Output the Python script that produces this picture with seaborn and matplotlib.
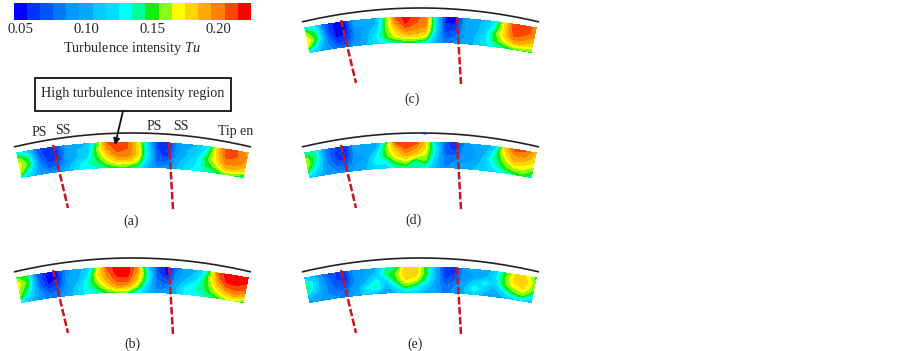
import numpy as np
import matplotlib
matplotlib.use('Agg')
import matplotlib.pyplot as plt
import seaborn as sns
from matplotlib.colors import ListedColormap

sns.set_style('white')
plt.rcParams['font.family'] = ['Liberation Serif', 'DejaVu Serif']
plt.rcParams['mathtext.fontset'] = 'custom'
plt.rcParams['mathtext.it'] = 'Liberation Serif:italic'

# ---------------------- Data ----------------------
cbar_colors = ['#0000ff', '#0033ff', '#0055ff', '#0077ff', '#0099ff', '#00aaff',
               '#00ccff', '#00ddff', '#00ffff', '#00ff99', '#11ee11', '#88ff11',
               '#ffff00', '#ffd500', '#ffaa00', '#ff8000', '#ff4400', '#ff0000']
tu_levels = np.arange(0.045, 0.2251, 0.01)
tick_values = [0.05, 0.10, 0.15, 0.20]
tick_labels = ['0.05', '0.10', '0.15', '0.20']

# Tu on the passage, rows run from casing side to hub side
tu_a = [[.13, .115, .07, .055, .07, .095, .105, .105, .15, .205, .215, .205, .175, .115, .06, .055, .09, .105, .105, .125, .18, .215, .205, .19],
        [.16, .14, .075, .055, .06, .095, .105, .11, .16, .195, .21, .205, .18, .12, .065, .055, .09, .105, .11, .135, .18, .21, .205, .195],
        [.17, .15, .085, .06, .065, .095, .105, .12, .155, .18, .20, .20, .18, .125, .07, .06, .095, .105, .12, .15, .175, .20, .20, .19],
        [.165, .13, .09, .07, .075, .10, .12, .135, .145, .165, .18, .18, .165, .115, .075, .075, .10, .115, .125, .145, .16, .185, .185, .175],
        [.13, .11, .095, .085, .09, .105, .125, .135, .135, .145, .15, .15, .135, .105, .085, .09, .105, .12, .13, .135, .14, .155, .155, .135]]
tu_b = [[.155, .145, .075, .05, .055, .09, .10, .11, .16, .21, .22, .22, .195, .115, .065, .05, .08, .105, .105, .135, .205, .22, .22, .22],
        [.17, .15, .075, .05, .055, .095, .10, .12, .175, .20, .22, .22, .19, .135, .07, .05, .09, .10, .115, .15, .195, .22, .22, .215],
        [.165, .14, .08, .055, .06, .095, .105, .135, .165, .19, .21, .21, .18, .13, .075, .065, .095, .11, .13, .15, .18, .205, .21, .205],
        [.155, .12, .09, .07, .075, .095, .115, .135, .15, .175, .195, .19, .16, .115, .08, .08, .105, .13, .135, .145, .165, .185, .195, .185],
        [.125, .105, .09, .08, .085, .10, .115, .13, .135, .15, .155, .155, .13, .105, .09, .095, .105, .13, .135, .135, .145, .16, .165, .145]]
tu_c = [[.135, .12, .07, .05, .055, .10, .105, .10, .15, .205, .22, .21, .20, .12, .055, .05, .095, .105, .105, .125, .18, .215, .215, .20],
        [.16, .14, .07, .05, .055, .095, .095, .105, .155, .195, .215, .205, .20, .125, .055, .055, .095, .10, .11, .135, .18, .215, .21, .20],
        [.175, .145, .08, .05, .055, .09, .10, .115, .155, .18, .20, .195, .19, .125, .06, .065, .095, .10, .115, .15, .18, .205, .20, .19],
        [.165, .125, .085, .06, .065, .09, .10, .125, .15, .17, .18, .18, .17, .11, .07, .075, .095, .105, .12, .145, .165, .185, .185, .175],
        [.125, .105, .09, .075, .08, .095, .105, .12, .13, .14, .145, .145, .135, .10, .08, .085, .10, .105, .12, .13, .14, .15, .155, .15]]
tu_d = [[.135, .135, .085, .065, .06, .095, .10, .095, .14, .205, .215, .21, .18, .115, .07, .055, .09, .10, .095, .115, .185, .21, .205, .185],
        [.16, .14, .085, .06, .055, .095, .10, .105, .155, .185, .205, .195, .175, .125, .07, .06, .095, .095, .10, .135, .175, .195, .195, .18],
        [.165, .13, .085, .065, .06, .095, .095, .125, .15, .175, .19, .18, .165, .12, .075, .075, .095, .09, .11, .14, .16, .185, .18, .17],
        [.145, .115, .09, .075, .075, .095, .10, .13, .13, .155, .165, .14, .155, .11, .08, .085, .095, .10, .11, .13, .15, .165, .165, .155],
        [.12, .105, .09, .085, .09, .10, .105, .115, .115, .135, .14, .14, .13, .105, .085, .095, .10, .105, .11, .12, .13, .14, .15, .135]]
tu_e = [[.11, .10, .075, .065, .065, .095, .095, .10, .135, .14, .18, .18, .15, .10, .06, .06, .095, .10, .095, .115, .15, .175, .175, .15],
        [.14, .115, .08, .065, .06, .09, .095, .11, .14, .155, .185, .18, .15, .10, .06, .065, .095, .095, .10, .12, .155, .18, .18, .16],
        [.145, .11, .085, .07, .065, .09, .105, .13, .115, .15, .175, .17, .14, .10, .065, .075, .095, .11, .13, .11, .15, .17, .175, .155],
        [.11, .10, .085, .075, .08, .095, .125, .14, .10, .125, .155, .14, .115, .095, .075, .085, .105, .135, .11, .10, .125, .15, .16, .13],
        [.095, .095, .09, .085, .085, .10, .11, .105, .095, .105, .115, .115, .10, .095, .08, .09, .105, .115, .10, .095, .10, .115, .12, .105]]

panel_names = ['(a)', '(b)', '(c)', '(d)', '(e)']
annot_labels = ['PS', 'SS', 'PS', 'SS', 'Tip en']

# ---------------------- Plotting ---------------------------------------
fig = plt.figure(figsize=(9.02, 3.51), dpi=100)
ax = fig.add_axes([0, 0, 1, 1])
ax.set_xlim(0, 902)
ax.set_ylim(351, 0)
ax.axis('off')

cmap = ListedColormap(cbar_colors)


def draw_panel(tu, dx, dy, name, name_x, name_y):
    tu = np.array(tu)
    cx, cy = 132.5 + dx, 754 + dy
    theta = np.radians(np.linspace(-10.88, 10.88, tu.shape[1]))
    radius = np.linspace(612, 587, tu.shape[0])
    tt, rr = np.meshgrid(theta, radius)
    ax.contourf(cx + rr * np.sin(tt), cy - rr * np.cos(tt), np.clip(tu, tu_levels[0] + 1e-4, tu_levels[-1] - 1e-4),
                levels=tu_levels, colors=cbar_colors, zorder=2)

    # casing line
    xc = np.linspace(-118, 118, 80)
    sns.lineplot(x=cx + xc, y=133 + dy + xc ** 2 / (2 * 504), color='#222222', linewidth=1.2,
                 sort=False, estimator=None, ax=ax, zorder=3)
    # dashed blade lines
    for x0, y0, x1, y1 in [(53, 145, 68, 208), (169, 142, 173, 209)]:
        sns.lineplot(x=[x0 + dx, x1 + dx], y=[y0 + dy, y1 + dy], color='#c8161d', linewidth=1.8,
                     linestyle=(0, (3.0, 1.0)), sort=False, estimator=None, ax=ax, zorder=4)
    ax.text(name_x, name_y, name, ha='center', va='center', fontsize=10)


draw_panel(tu_a, 0, 0, panel_names[0], 131, 221)
draw_panel(tu_b, 0, 125, panel_names[1], 132, 344)
draw_panel(tu_c, 288, -125, panel_names[2], 412, 99)
draw_panel(tu_d, 288, 0, panel_names[3], 414, 220)
draw_panel(tu_e, 288, 125, panel_names[4], 415, 344)

# small blue speck on the casing in (d)
ax.plot([421, 426], [133, 134], color='#1030d0', lw=1.0, zorder=5)

# colour bar
cax = fig.add_axes([13.5 / 902, 1 - 20 / 351, 237.5 / 902, 17 / 351])
sns.heatmap(np.array([(tu_levels[:-1] + tu_levels[1:]) / 2]), cmap=cmap, cbar=False,
            xticklabels=False, yticklabels=False, ax=cax)
for val, lab in zip(tick_values, tick_labels):
    ax.text(21 + (val - 0.05) / 0.05 * 65.7, 29.5, lab, ha='center', va='center', fontsize=10.6)
ax.text(132, 48.5, r'Turbulence intensity $\mathit{Tu}$', ha='center', va='center', fontsize=10.3)

# annotations on (a)
for lab, x, y in zip(annot_labels, [39, 63, 154, 181, 236], [132, 130, 126, 127, 131]):
    ax.text(x, y, lab, ha='center', va='center', fontsize=10)
ax.add_patch(plt.Rectangle((34.5, 78), 196, 33, fc='white', ec='#111111', lw=1.3, zorder=5))
ax.text(132.5, 94, 'High turbulence intensity region', ha='center', va='center', fontsize=10.2, zorder=6)
ax.annotate('', xy=(115, 145), xytext=(123, 111), zorder=6,
            arrowprops=dict(arrowstyle='-|>', color='#111111', lw=1.3, mutation_scale=9, shrinkA=0, shrinkB=0))

fig.savefig('out.png', dpi=100)
